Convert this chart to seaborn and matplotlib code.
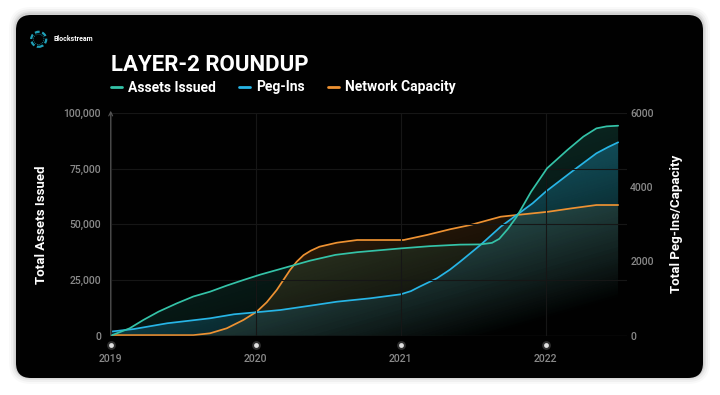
import numpy as np
import matplotlib
matplotlib.use('Agg')
import matplotlib.pyplot as plt
import seaborn as sns
from matplotlib.patches import FancyBboxPatch, Circle, PathPatch
from matplotlib.lines import Line2D
from matplotlib.colors import to_rgb
from matplotlib.transforms import IdentityTransform, blended_transform_factory
from matplotlib.ticker import FuncFormatter

# ------------------------------------------------------------
# Data (decimal years)
# ------------------------------------------------------------
assets_x = [2019.0, 2019.13, 2019.225, 2019.33, 2019.455, 2019.57, 2019.685, 2019.80,
            2019.915, 2020.03, 2020.145, 2020.26, 2020.375, 2020.55, 2020.70, 2021.0,
            2021.20, 2021.41, 2021.55, 2021.63, 2021.68, 2021.74, 2021.80, 2021.90,
            2022.01, 2022.15, 2022.26, 2022.35, 2022.42, 2022.50]
assets_y = [0, 3300, 7050, 10800, 14500, 17600, 19760, 22500,
            25000, 27400, 29500, 31600, 33700, 36300, 37500, 39200,
            40200, 40900, 41000, 41700, 43500, 48000, 53400, 64700,
            75200, 83400, 89400, 93100, 94000, 94300]

pegins_x = [2019.0, 2019.16, 2019.39, 2019.685, 2019.85, 2020.0, 2020.17, 2020.375,
            2020.56, 2020.79, 2021.0, 2021.07, 2021.13, 2021.25, 2021.34, 2021.41,
            2021.55, 2021.69, 2021.80, 2021.91, 2022.0, 2022.18, 2022.35, 2022.43,
            2022.50]
pegins_y = [110, 180, 335, 469, 577, 630, 692, 808,
            916, 1008, 1115, 1200, 1320, 1546, 1780, 1994,
            2444, 2937, 3252, 3567, 3880, 4419, 4914, 5080,
            5210]

capacity_x = [2019.0, 2019.57, 2019.685, 2019.80, 2019.915, 2020.007, 2020.076, 2020.145,
              2020.237, 2020.283, 2020.33, 2020.38, 2020.44, 2020.56, 2020.70, 2020.86,
              2021.02, 2021.18, 2021.34, 2021.48, 2021.69, 2021.80, 2022.02, 2022.18,
              2022.35, 2022.50]
capacity_y = [15, 15, 65, 199, 423, 647, 900, 1231,
              1770, 1994, 2170, 2290, 2398, 2506, 2578, 2578,
              2578, 2713, 2867, 2982, 3206, 3252, 3341, 3432,
              3521, 3521]

years = [2019, 2020, 2021, 2022]
left_ticks = [0, 25000, 50000, 75000, 100000]
right_ticks = [0, 2000, 4000, 6000]

TEAL = '#34c3a8'
BLUE = '#27b5e6'
ORANGE = '#ee9232'
CARD = '#010101'
TICK = '#8a8a8a'

# ------------------------------------------------------------
# Figure + card
# ------------------------------------------------------------
sns.set_theme(style='dark')
plt.rcParams['font.family'] = ['Roboto', 'DejaVu Sans']

fig = plt.figure(figsize=(7.2, 3.95), dpi=100, facecolor='white')
px = IdentityTransform()

# soft shadow around the card
for grow, a in [(7, 0.025), (5, 0.035), (3, 0.05), (1.5, 0.08)]:
    fig.patches.append(FancyBboxPatch((16 - grow, 17 - grow + 1), 687 + 2 * grow, 363 + 2 * grow,
                                      boxstyle=f'round,pad=0,rounding_size={15 + grow}',
                                      transform=px, facecolor='black', edgecolor='none',
                                      alpha=a, zorder=0))
fig.patches.append(FancyBboxPatch((16, 17), 687, 363, boxstyle='round,pad=0,rounding_size=15',
                                  transform=px, facecolor=CARD, edgecolor='none', zorder=0))

# logo
fig.patches.append(Circle((38.7, 355.7), 7.5, transform=px, fill=False, ec='#1f9fb6',
                          lw=1.6, ls=(0, (2.2, 1.2)), zorder=1))
fig.patches.append(Circle((38.7, 355.7), 5.2, transform=px, fill=False, ec='#1f9fb6',
                          lw=0.6, ls=(0, (1, 1.5)), zorder=1))
fig.text(54 / 720, 1 - 39.3 / 395, 'Blockstream', fontsize=5, fontweight='bold',
         color='white', va='center', ha='left')

# title
fig.text(111 / 720, 1 - 71 / 395, 'LAYER-2 ROUNDUP', fontsize=16, fontweight='bold',
         color='white', va='baseline', ha='left')

# ------------------------------------------------------------
# Axes
# ------------------------------------------------------------
ax = fig.add_axes([110.7 / 720, 1 - 335.7 / 395, 516 / 720, 222.7 / 395])
ax2 = ax.twinx()
ax2.set_zorder(3)
ax.set_zorder(4)
ax.patch.set_visible(False)
ax2.patch.set_visible(False)

# diagonal fade: strong towards the top-left, dark towards the bottom-right
gx, gy = np.meshgrid(np.linspace(0, 1, 80), np.linspace(1, 0, 80))
fade = np.clip(0.38 + 0.75 * gy - 0.5 * gx, 0, 1)


def grad_fill(target, x, y, color, alpha, transform):
    poly = target.fill_between(x, 0, y, facecolor='none', edgecolor='none', transform=transform)
    clip = PathPatch(poly.get_paths()[0], transform=transform, facecolor='none', edgecolor='none')
    target.add_patch(clip)
    grad = np.zeros((80, 80, 4))
    grad[..., :3] = to_rgb(color)
    grad[..., 3] = alpha * fade
    im = target.imshow(grad, extent=[0, 1, 0, 1], transform=target.transAxes,
                       aspect='auto', origin='upper', zorder=1, interpolation='bilinear')
    im.set_clip_path(clip)


grad_fill(ax2, capacity_x, capacity_y, ORANGE, 0.34, ax2.transData)
grad_fill(ax2, assets_x, assets_y, TEAL, 0.30, ax.transData)
grad_fill(ax2, pegins_x, pegins_y, BLUE, 0.55, ax2.transData)

sns.lineplot(x=capacity_x, y=capacity_y, ax=ax2, color=ORANGE, lw=1.25, zorder=3)
sns.lineplot(x=pegins_x, y=pegins_y, ax=ax2, color=BLUE, lw=1.25, zorder=3)
sns.lineplot(x=assets_x, y=assets_y, ax=ax, color=TEAL, lw=1.25, zorder=3)

ax.set_xlim(2019.0, 2022.559)
ax.set_ylim(0, 100000)
ax2.set_ylim(0, 6000)

ax.set_xticks(years)
ax.set_xticklabels([str(y) for y in years])
ax.set_yticks(left_ticks)
ax.yaxis.set_major_formatter(FuncFormatter(lambda v, p: f'{v:,.0f}'))
ax2.set_yticks(right_ticks)

ax.tick_params(axis='y', colors=TICK, labelsize=7.5, length=0, pad=7)
ax.tick_params(axis='x', colors=TICK, labelsize=7.5, length=0, pad=13)
ax2.tick_params(axis='y', colors=TICK, labelsize=7.5, length=0, pad=2.5)
for lab in ax.get_xticklabels() + ax.get_yticklabels() + ax2.get_yticklabels():
    lab.set_fontweight('medium')

ax.grid(True, color='#161616', lw=0.8)
ax2.grid(False)
for a in (ax, ax2):
    for s in a.spines.values():
        s.set_visible(False)
ax.axhline(0, color='#2a2a2a', lw=0.9, zorder=0.5)

# left axis with arrow head
ax.annotate('', xy=(0, 1.01), xytext=(0, 0), xycoords='axes fraction',
            arrowprops=dict(arrowstyle='->', color='#555555', lw=0.8,
                            mutation_scale=7, shrinkA=0, shrinkB=0))

# year dots under the axis
trans = blended_transform_factory(ax.transData, ax.transAxes)
ax.scatter(years, [-0.042] * len(years), transform=trans, s=40, color='#bbbbbb',
           alpha=0.25, clip_on=False, zorder=5, linewidths=0)
ax.scatter(years, [-0.042] * len(years), transform=trans, s=12, color='#e0e0e0',
           clip_on=False, zorder=6, linewidths=0)

ax.set_ylabel('Total Assets Issued', color='white', fontweight='bold', fontsize=9.5)
ax.yaxis.set_label_coords(-0.1215, 0.5)
ax2.set_ylabel('Total Peg-Ins/Capacity', color='white', fontweight='bold', fontsize=9.5)
ax2.yaxis.set_label_coords(1.083, 0.5)
ax.set_xlabel('')

# legend
handles = [Line2D([], [], color=TEAL, lw=2),
           Line2D([], [], color=BLUE, lw=2),
           Line2D([], [], color=ORANGE, lw=2)]
fig.legend(handles, ['Assets Issued', 'Peg-Ins', 'Network Capacity'],
           loc='center left', bbox_to_anchor=(111 / 720, 1 - 87.5 / 395), ncol=3,
           frameon=False, handlelength=0.8, handletextpad=0.4, columnspacing=1.7,
           borderpad=0, borderaxespad=0, labelcolor='white',
           prop={'weight': 'bold', 'size': 10})

fig.savefig('out.png', dpi=100, facecolor='white')
